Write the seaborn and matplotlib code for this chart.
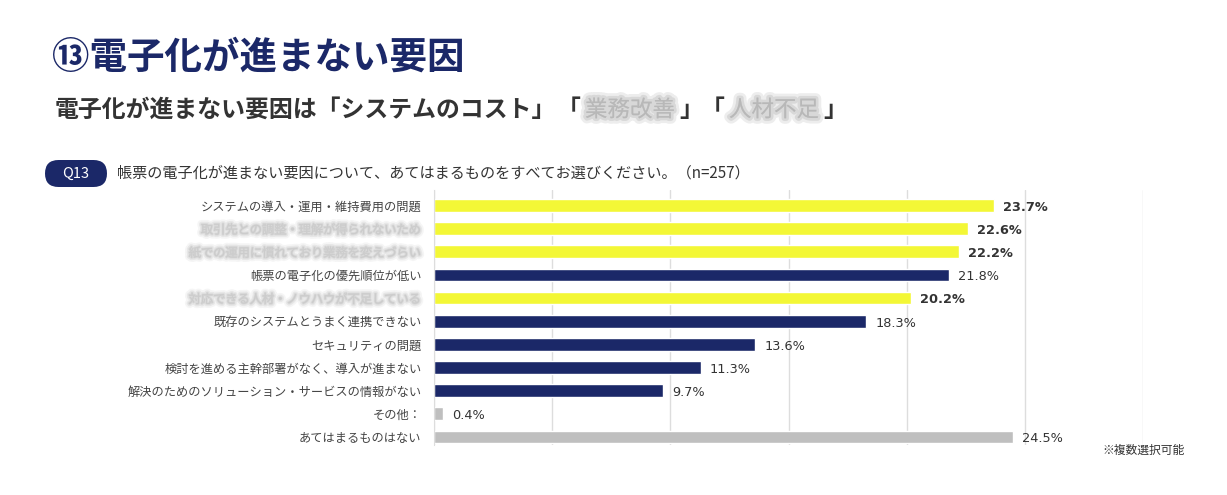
import matplotlib
matplotlib.use("Agg")
import matplotlib.pyplot as plt
import matplotlib.patheffects as pe
from matplotlib.patches import FancyBboxPatch
import pandas as pd
import seaborn as sns

sns.set_style("white")
plt.rcParams["font.family"] = ["Noto Sans CJK JP", "DejaVu Sans"]

# data (rows 2, 3, 5 are blurred in the source)
labels = [
    "システムの導入・運用・維持費用の問題",
    "取引先との調整・理解が得られないため",
    "紙での運用に慣れており業務を変えづらい",
    "帳票の電子化の優先順位が低い",
    "対応できる人材・ノウハウが不足している",
    "既存のシステムとうまく連携できない",
    "セキュリティの問題",
    "検討を進める主幹部署がなく、導入が進まない",
    "解決のためのソリューション・サービスの情報がない",
    "その他：",
    "あてはまるものはない",
]
values = [23.7, 22.6, 22.2, 21.8, 20.2, 18.3, 13.6, 11.3, 9.7, 0.4, 24.5]
groups = ["top", "top", "top", "other", "top", "other", "other", "other", "other", "none", "none"]
blurred = [1, 2, 4]

NAVY = "#1B2868"
YELLOW = "#F3F736"
GREY = "#BFBFBF"
TEXT = "#333333"
group_colors = {"top": YELLOW, "other": NAVY, "none": GREY}

df = pd.DataFrame({"label": labels, "value": values, "group": groups})

fig = plt.figure(figsize=(12.27, 4.95), dpi=100)
ax = fig.add_axes([434 / 1227, 1 - 445 / 495, 709 / 1227, 255 / 495])

sns.barplot(data=df, x="value", y="label", hue="label",
            palette=[group_colors[g] for g in groups], legend=False,
            saturation=1, width=0.55, orient="h", ax=ax)

ax.set_xlim(0, 30)
ax.set_ylim(10.35, -0.67)
ax.set_xticks([0, 5, 10, 15, 20, 25, 30])
ax.set_xticklabels([])
ax.grid(axis="x", color="#dddddd", linewidth=1)
ax.set_axisbelow(True)
ax.tick_params(axis="both", length=0)
ax.tick_params(axis="y", pad=9, labelsize=8.8, labelcolor="#444444")
ax.set_xlabel("")
ax.set_ylabel("")
for s in ["top", "right", "bottom"]:
    ax.spines[s].set_visible(False)
ax.spines["left"].set_color("#dddddd")

blur = [pe.withStroke(linewidth=6, foreground="#f2f2f2", alpha=0.7),
        pe.withStroke(linewidth=3.5, foreground="#e2e2e2", alpha=0.7),
        pe.withStroke(linewidth=1.5, foreground="#d4d4d4", alpha=0.7)]
for i, t in enumerate(ax.get_yticklabels()):
    if i in blurred:
        t.set_color("#cccccc")
        t.set_path_effects(blur)

for i, (v, g) in enumerate(zip(values, groups)):
    ax.text(v + 0.38, i + 0.08, f"{v:.1f}%", va="center", ha="left",
            fontsize=9.3, color=TEXT,
            fontweight="bold" if g == "top" else "normal",
            family=["DejaVu Sans"])

# titles
fig.text(52 / 1227, 1 - 57 / 495, "⑬電子化が進まない要因", fontsize=27,
         fontweight="bold", color=NAVY, va="center", ha="left")

sub_y = 1 - 110 / 495
fs_sub = 17.2
fig.text(55 / 1227, sub_y, "電子化が進まない要因は「システムのコスト」",
         fontsize=fs_sub, fontweight="bold", color=TEXT, va="center", ha="left")
sub_blur = [pe.withStroke(linewidth=8, foreground="#e6e6e6", alpha=0.7),
            pe.withStroke(linewidth=4, foreground="#d0d0d0", alpha=0.7)]
for x0, word in [(557, "業務改善"), (701, "人材不足")]:
    fig.text(x0 / 1227, sub_y, "「", fontsize=fs_sub, fontweight="bold",
             color=TEXT, va="center", ha="left")
    fig.text((x0 + 28) / 1227, sub_y, word, fontsize=fs_sub - 1,
             color="#b8b8b8", va="center", ha="left", path_effects=sub_blur)
    fig.text((x0 + 122) / 1227, sub_y, "」", fontsize=fs_sub, fontweight="bold",
             color=TEXT, va="center", ha="left")

# question badge
badge = FancyBboxPatch((45 / 100, (495 - 187) / 100), 62 / 100, 27 / 100,
                       boxstyle="round,pad=0,rounding_size=0.135",
                       transform=fig.dpi_scale_trans, fc=NAVY, ec="none")
fig.patches.append(badge)
fig.text(76 / 1227, 1 - 173.5 / 495, "Q13", color="white", fontsize=10.5,
         ha="center", va="center")
fig.text(117 / 1227, 1 - 173 / 495,
         "帳票の電子化が進まない要因について、あてはまるものをすべてお選びください。（n=257）",
         color=TEXT, fontsize=10.9, ha="left", va="center")

fig.text(1185 / 1227, 1 - 450 / 495, "※複数選択可能", color=TEXT,
         fontsize=8.5, ha="right", va="center")

fig.savefig("out.png", dpi=100, facecolor="white")
